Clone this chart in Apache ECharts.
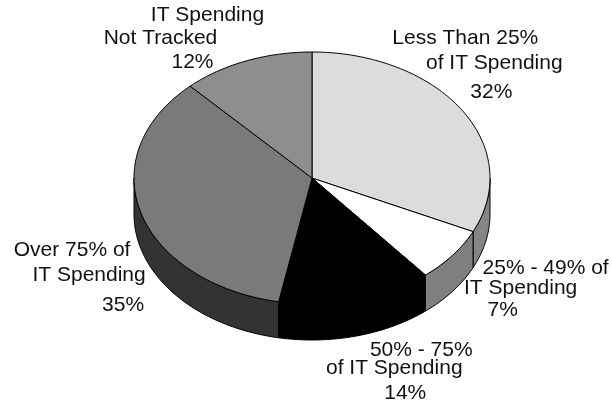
<!DOCTYPE html>
<html>
<head>
<meta charset="utf-8">
<script src="https://cdn.jsdelivr.net/npm/echarts@6/dist/echarts.min.js"></script>
<style>
  html, body { margin: 0; padding: 0; background: #fff; }
  #chart { width: 612px; height: 404px; }
</style>
</head>
<body>
<div id="chart"></div>
<script>
// Share of IT spending, clockwise from 12 o'clock
var categories = [
  'Less Than 25%\nof IT Spending',
  '25% - 49% of\nIT Spending',
  '50% - 75%\nof IT Spending',
  'Over 75% of\nIT Spending',
  'IT Spending\nNot Tracked'
];
var shares = [32, 7, 14, 35, 12];

// Face and side colours for each slice
var topColors  = ['#dcdcdc', '#ffffff', '#000000', '#7a7a7a', '#8e8e8e'];
var sideColors = ['#858585', '#7f7f7f', '#000000', '#333333', '#5a5a5a'];

// Tilted-disc geometry
var disc = { cx: 312, cy: 178, rx: 178, ry: 126, depth: 36 };

// Per-line label offsets from the slice's mid-angle rim point
var labelOffsets = [
  [[3, -72], [32, -47], [29, -18]],
  [[93, 13], [68, 33], [50, 55]],
  [[65, 50], [38, 68], [49, 93]],
  [[-69, 37], [-52, 62], [-18, 92]],
  [[-39, -46], [-86, -23], [-54, 1]]
];

var total = shares.reduce(function (a, b) { return a + b; }, 0);

function sliceAngles(i) {
  var before = 0;
  for (var k = 0; k < i; k++) before += shares[k];
  var a0 = before / total * 360;
  var a1 = (before + shares[i]) / total * 360;
  return [a0, a1];
}

function rim(deg, dy) {
  var t = deg * Math.PI / 180;
  return [disc.cx + disc.rx * Math.sin(t), disc.cy - disc.ry * Math.cos(t) + (dy || 0)];
}

function arc(a0, a1, dy) {
  var pts = [];
  var n = Math.max(2, Math.ceil(Math.abs(a1 - a0)));
  for (var s = 0; s <= n; s++) pts.push(rim(a0 + (a1 - a0) * s / n, dy));
  return pts;
}

function renderSide(params, api) {
  var i = params.dataIndex;
  var ang = sliceAngles(i);
  var a = Math.max(ang[0], 90), b = Math.min(ang[1], 270);
  if (b <= a) return { type: 'group', children: [] };
  var top = arc(a, b, 0);
  var bottom = arc(a, b, disc.depth).reverse();
  return {
    type: 'polygon',
    shape: { points: top.concat(bottom) },
    style: { fill: sideColors[i], stroke: '#000', lineWidth: 1 }
  };
}

function renderTop(params, api) {
  var i = params.dataIndex;
  var value = api.value(0);
  var ang = sliceAngles(i);
  var pts = [[disc.cx, disc.cy]].concat(arc(ang[0], ang[1], 0));
  var children = [{
    type: 'polygon',
    shape: { points: pts },
    style: { fill: topColors[i], stroke: '#000', lineWidth: 1 }
  }];
  var anchor = rim((ang[0] + ang[1]) / 2, 0);
  var lines = categories[i].split('\n').concat([value + '%']);
  lines.forEach(function (txt, k) {
    var off = labelOffsets[i][k];
    children.push({
      type: 'text',
      z2: 10,
      style: {
        x: anchor[0] + off[0],
        y: anchor[1] + off[1],
        text: txt,
        fill: '#111',
        font: '21px "Liberation Sans", Arial, sans-serif',
        align: 'center',
        verticalAlign: 'middle'
      }
    });
  });
  return { type: 'group', children: children };
}

var chart = echarts.init(document.getElementById('chart'), null, { renderer: 'canvas' });
chart.setOption({
  animation: false,
  backgroundColor: '#ffffff',
  series: [
    {
      type: 'custom',
      name: 'sides',
      coordinateSystem: 'none',
      z: 1,
      renderItem: renderSide,
      data: shares.map(function (v) { return [v]; })
    },
    {
      type: 'custom',
      name: 'tops',
      coordinateSystem: 'none',
      z: 2,
      renderItem: renderTop,
      data: shares.map(function (v) { return [v]; })
    }
  ]
});
</script>
</body>
</html>
